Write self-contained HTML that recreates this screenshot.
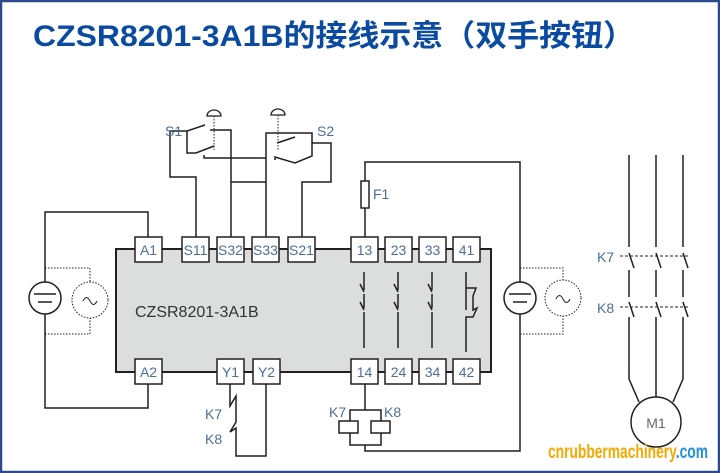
<!DOCTYPE html>
<html><head><meta charset="utf-8"><style>
html,body{margin:0;padding:0;background:#fff}
svg{display:block}
text{font-family:"Liberation Sans","Noto Sans CJK SC",sans-serif}
</style></head><body>
<svg width="720" height="473" viewBox="0 0 720 473" xmlns="http://www.w3.org/2000/svg">
<rect x="1" y="1" width="718" height="471" fill="#fff" stroke="#2e4a8e" stroke-width="2.5"/>
<text x="33" y="46" font-size="30" font-weight="bold" fill="#0a4aa0" textLength="602" lengthAdjust="spacingAndGlyphs" font-family="'Liberation Sans','Noto Sans CJK SC',sans-serif">CZSR8201-3A1B的接线示意（双手按钮）</text>

<g fill="none" stroke="#231f20" stroke-width="1.5">
<rect x="116" y="249" width="375" height="123" fill="#dcdddd" stroke-width="2"/>
<polyline points="148,237 148,212 45,212 45,408 148,408 148,384"/>
<circle cx="45" cy="298" r="16" fill="#fff"/>
<line x1="34" y1="294" x2="56" y2="294"/><line x1="38" y1="302" x2="52" y2="302"/>
<polyline points="45,268 90,268 90,282" stroke-dasharray="1.5,1.5" stroke-width="1"/>
<polyline points="45,334 90,334 90,318" stroke-dasharray="1.5,1.5" stroke-width="1"/>
<circle cx="90" cy="300" r="18" stroke-dasharray="1.5,1.5" stroke-width="1"/>
<path d="M83,301 q3.5,-7 7,0 q3.5,7 7,0" stroke-width="1"/>

<polyline points="365,237 365,162 520,162 520,451 365,451 365,445"/>
<rect x="361" y="181" width="8" height="27" fill="#fff"/>
<circle cx="520" cy="298" r="16" fill="#fff"/>
<line x1="509" y1="294" x2="531" y2="294"/><line x1="513" y1="302" x2="527" y2="302"/>
<polyline points="520,268 563,268 563,280" stroke-dasharray="1.5,1.5" stroke-width="1"/>
<polyline points="520,334 563,334 563,316" stroke-dasharray="1.5,1.5" stroke-width="1"/>
<circle cx="563" cy="298" r="18" stroke-dasharray="1.5,1.5" stroke-width="1"/>
<path d="M556,299 q3.5,-7 7,0 q3.5,7 7,0" stroke-width="1"/>

<polyline points="196,237 196,177 170,177 170,131 187,131 205,125"/>
<polyline points="187,131 187,153 196,153 214,146"/>
<polyline points="204,155 204,158 266,158"/>
<polyline points="211,131 211,130 231,130 231,237"/>
<line x1="231" y1="182" x2="266" y2="182"/>
<polyline points="266,237 266,133 312,133 312,143 331,143 331,182 302,182 302,237"/>
<polyline points="275,160 275,157 295,163 312,156 312,143"/>
<line x1="277" y1="143" x2="295" y2="137"/>
<line x1="214" y1="116" x2="214" y2="150" stroke-dasharray="1.5,1.5" stroke-width="1"/>
<line x1="278" y1="115" x2="278" y2="150" stroke-dasharray="1.5,1.5" stroke-width="1"/>
<path d="M207,116 a7,6 0 0 1 14,0 z" stroke-width="1.3"/>
<path d="M271,115 a7,6 0 0 1 14,0 z" stroke-width="1.3"/>

<polyline points="230,384 230,404 230,406 236,396 236,422 230,432 236,428 236,456 266,456 266,384"/>
<polyline points="365,384 365,410 350,410 350,421"/>
<polyline points="365,410 381,410 381,421"/>
<rect x="339" y="421" width="19" height="12"/>
<rect x="371" y="421" width="19" height="12"/>
<polyline points="350,433 350,445 381,445 381,433"/>

<g>
<path d="M364,272 v18 M364,292 l-4,-8 M364,294 v14 M364,310 l-4,-8 M364,312 v36"/>
<path d="M398,272 v18 M398,292 l-4,-8 M398,294 v14 M398,310 l-4,-8 M398,312 v36"/>
<path d="M432,272 v18 M432,292 l-4,-8 M432,294 v14 M432,310 l-4,-8 M432,312 v36"/>
<path d="M466,272 v16 h10 l-3,8 v14 l4,-2 l-4,9 h-7 v35 M466,288 v22"/>
</g>

<path d="M629,155 v92 M629,253 l5,15 M629,270 v27 M629,302 l5,15 M629,317 v62 l10,23"/>
<path d="M656,155 v92 M656,253 l5,15 M656,270 v27 M656,302 l5,15 M656,317 v80"/>
<path d="M683,155 v92 M683,253 l5,15 M683,270 v27 M683,302 l5,15 M683,317 v62 l-10,23"/>
<line x1="620" y1="256" x2="688" y2="256" stroke-dasharray="3,2" stroke-width="1"/>
<line x1="620" y1="307" x2="688" y2="307" stroke-dasharray="3,2" stroke-width="1"/>
<circle cx="656" cy="422" r="25"/>
</g>

<g fill="#fff" stroke="#231f20" stroke-width="1.5">
<rect x="135" y="237" width="27" height="25"/><rect x="182" y="237" width="27" height="25"/>
<rect x="217" y="237" width="27" height="25"/><rect x="252" y="237" width="27" height="25"/>
<rect x="288" y="237" width="27" height="25"/><rect x="351" y="237" width="27" height="25"/>
<rect x="385" y="237" width="27" height="25"/><rect x="419" y="237" width="27" height="25"/>
<rect x="453" y="237" width="27" height="25"/>
<rect x="135" y="359" width="27" height="25"/><rect x="217" y="359" width="27" height="25"/>
<rect x="253" y="359" width="27" height="25"/><rect x="351" y="359" width="27" height="25"/>
<rect x="385" y="359" width="27" height="25"/><rect x="419" y="359" width="27" height="25"/>
<rect x="453" y="359" width="27" height="25"/>
</g>
<line x1="162" y1="249" x2="182" y2="249" stroke="#231f20" stroke-width="2"/>
<g font-size="14" fill="#4d6e9a" text-anchor="middle">
<text x="148.5" y="255">A1</text><text x="195.5" y="255">S11</text><text x="230.5" y="255">S32</text>
<text x="265.5" y="255">S33</text><text x="301.5" y="255">S21</text><text x="364.5" y="255">13</text>
<text x="398.5" y="255">23</text><text x="432.5" y="255">33</text><text x="466.5" y="255">41</text>
<text x="148.5" y="377">A2</text><text x="230.5" y="377">Y1</text><text x="266.5" y="377">Y2</text>
<text x="364.5" y="377">14</text><text x="398.5" y="377">24</text><text x="432.5" y="377">34</text>
<text x="466.5" y="377">42</text>
</g>
<g font-size="14" fill="#4d6e9a">
<text x="135" y="317" font-size="16" fill="#333">CZSR8201-3A1B</text>
<text x="165" y="136">S1</text><text x="317" y="136">S2</text>
<text x="373" y="199">F1</text>
<text x="205" y="419">K7</text><text x="205" y="444">K8</text>
<text x="329" y="417">K7</text><text x="384" y="417">K8</text>
<text x="597" y="262">K7</text><text x="597" y="313">K8</text>
<text x="656" y="428" text-anchor="middle" fill="#666">M1</text>
</g>
<text x="548" y="458" font-size="19" font-weight="bold" textLength="160" lengthAdjust="spacingAndGlyphs"><tspan fill="#f5a800">cnrubbermachinery</tspan><tspan fill="#1f8fe0">.com</tspan></text>
</svg>
</body></html>
